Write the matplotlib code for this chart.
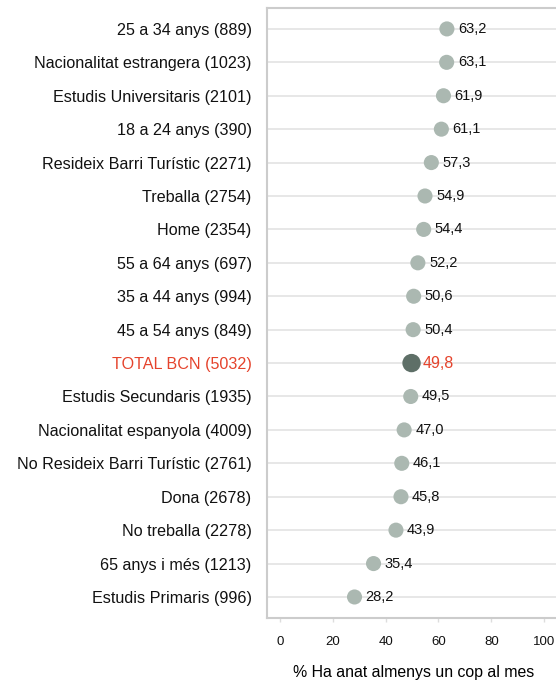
import matplotlib.pyplot as plt

plt.rcParams['font.family'] = ['Liberation Sans', 'DejaVu Sans']

categories = [
    "25 a 34 anys (889)", "Nacionalitat estrangera (1023)", "Estudis Universitaris (2101)",
    "18 a 24 anys (390)", "Resideix Barri Turístic (2271)", "Treballa (2754)",
    "Home (2354)", "55 a 64 anys (697)", "35 a 44 anys (994)", "45 a 54 anys (849)",
    "TOTAL BCN (5032)", "Estudis Secundaris (1935)", "Nacionalitat espanyola (4009)",
    "No Resideix Barri Turístic (2761)", "Dona (2678)", "No treballa (2278)",
    "65 anys i més (1213)", "Estudis Primaris (996)",
]
values = [63.2, 63.1, 61.9, 61.1, 57.3, 54.9, 54.4, 52.2, 50.6, 50.4,
          49.8, 49.5, 47.0, 46.1, 45.8, 43.9, 35.4, 28.2]
total_label = "TOTAL BCN (5032)"

dot_color = "#abb8b1"
total_color = "#5e6f67"
red = "#e5432c"

fig = plt.figure(figsize=(5.56, 6.9), dpi=100)
ax = fig.add_axes([0.480, 0.1043, 0.527, 0.8843])

ys = list(range(len(categories)))
for y, cat, v in zip(ys, categories, values):
    ax.axhline(y, color="#e3e3e3", lw=1.2, zorder=0)
    is_total = cat == total_label
    ax.scatter(v, y, s=175 if is_total else 118,
               color=total_color if is_total else dot_color,
               edgecolors="none", zorder=3)
    txt = f"{v:.1f}".replace(".", ",")
    ax.annotate(txt, (v, y), xytext=(8.0, 0), textcoords="offset points",
                va="center", ha="left",
                fontsize=11.5 if is_total else 10.5,
                color=red if is_total else "#111111")

ax.set_yticks(ys)
ax.set_yticklabels(categories, fontsize=11.6, color="#111111")
for lbl in ax.get_yticklabels():
    if lbl.get_text() == total_label:
        lbl.set_color(red)
ax.tick_params(axis="y", length=0, pad=11)

ax.set_xlim(-5, 106)
ax.set_ylim(17.63, -0.63)
ax.set_xticks([0, 20, 40, 60, 80, 100])
ax.tick_params(axis="x", length=3, width=1, color="#dddddd", pad=10,
               labelsize=9.5, labelcolor="#111111")

for sp in ax.spines.values():
    sp.set_color("#cccccc")
    sp.set_linewidth(1.5)

ax.set_xlabel("% Ha anat almenys un cop al mes", fontsize=11.4, labelpad=12)

fig.savefig("out.png", dpi=100)
